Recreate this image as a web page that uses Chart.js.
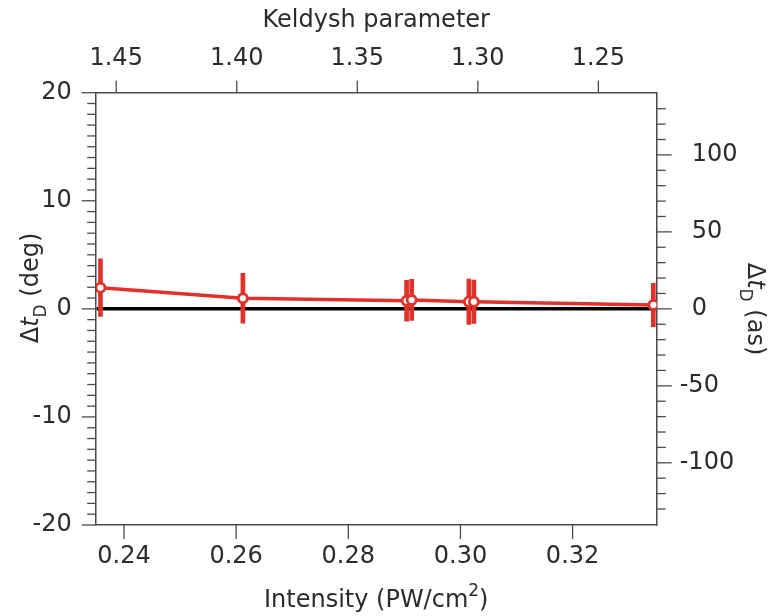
<!DOCTYPE html>
<html>
<head>
<meta charset="utf-8">
<script src="https://cdn.jsdelivr.net/npm/chart.js@4.4.0/dist/chart.umd.min.js"></script>
<style>
  body { margin: 0; background: #fff; }
  #wrap { width: 771px; height: 616px; }
</style>
</head>
<body>
<div id="wrap"><canvas id="delayChart" width="771" height="616"></canvas></div>
<script>
// values
const intensity = [0.2358, 0.2612, 0.2904, 0.2913, 0.3015, 0.3024, 0.3344]; // PW/cm^2
const delayDeg = [1.96, 0.98, 0.75, 0.82, 0.66, 0.66, 0.36];
const delayErr = [2.67, 2.30, 1.90, 1.90, 2.10, 2.00, 2.00];

// axis ticks
const intensityTicks = [0.24, 0.26, 0.28, 0.30, 0.32];
const keldyshTicks = [1.25, 1.30, 1.35, 1.40, 1.45];
const degTicks = [-20, -10, 0, 10, 20];
const asTicks = [-100, -50, 0, 50, 100];

const RED = '#e2302a';
const TEXT = '#2b2b2b';
const FRAME = '#4a4a4a';
const FONT = '"DejaVu Sans", sans-serif';

const degMinor = [];
for (let v = -19; v <= 19; v++) if (v % 10 !== 0) degMinor.push(v);
const asMinor = [];
for (let v = -130; v <= 130; v += 10) if (v % 50 !== 0) asMinor.push(v);

function setTicks(list) {
    return scale => { scale.ticks = list.map(v => ({ value: v })); };
}

// outward tick marks (major + minor), placed with the chart's scales
const tickMarks = {
    id: 'tickMarks',
    afterDraw(chart) {
        const ctx = chart.ctx;
        const s = chart.scales;
        ctx.save();
        ctx.strokeStyle = FRAME;
        ctx.lineWidth = 1.3;
        function vert(scale, values, x0, len) {
            values.forEach(v => {
                const y = scale.getPixelForValue(v);
                ctx.beginPath(); ctx.moveTo(x0, y); ctx.lineTo(x0 + len, y); ctx.stroke();
            });
        }
        function horiz(scale, values, y0, len) {
            values.forEach(v => {
                const x = scale.getPixelForValue(v);
                ctx.beginPath(); ctx.moveTo(x, y0); ctx.lineTo(x, y0 + len); ctx.stroke();
            });
        }
        const area = chart.chartArea;
        vert(s.y, degTicks, area.left, -14);
        vert(s.y, degMinor, area.left, -8.5);
        vert(s.y2, asTicks, area.right, 15);
        vert(s.y2, asMinor, area.right, 9);
        horiz(s.x, intensityTicks, area.bottom, 14);
        horiz(s.x2, keldyshTicks, area.top, -12);
        ctx.restore();
    }
};

// draws a run of text pieces (for italics, sub/superscripts)
function drawRich(ctx, parts, cx, baseY, rot) {
    ctx.save();
    ctx.translate(cx, baseY);
    ctx.rotate(rot);
    let total = 0;
    parts.forEach(p => { ctx.font = p.font; total += ctx.measureText(p.text).width; });
    let x = -total / 2;
    ctx.fillStyle = TEXT;
    ctx.textBaseline = 'alphabetic';
    ctx.textAlign = 'left';
    parts.forEach(p => {
        ctx.font = p.font;
        ctx.fillText(p.text, x, p.dy || 0);
        x += ctx.measureText(p.text).width;
    });
    ctx.restore();
}

const axisTitles = {
    id: 'axisTitles',
    afterDraw(chart) {
        const ctx = chart.ctx;
        const area = chart.chartArea;
        const mid = (area.left + area.right) / 2;
        const big = '24px ' + FONT;
        const ital = 'italic 24px ' + FONT;
        const small = '17px ' + FONT;
        drawRich(ctx, [{ text: 'Keldysh parameter', font: big }], mid, 27, 0);
        drawRich(ctx, [
            { text: 'Intensity (PW/cm', font: big },
            { text: '2', font: small, dy: -11 },
            { text: ')', font: big }
        ], mid, 607, 0);
        drawRich(ctx, [
            { text: '\u0394', font: big },
            { text: 't', font: ital },
            { text: 'D', font: small, dy: 8 },
            { text: ' (deg)', font: big }
        ], 38, 288, -Math.PI / 2);
        drawRich(ctx, [
            { text: '\u0394', font: big },
            { text: 't', font: ital },
            { text: 'D', font: small, dy: 8 },
            { text: ' (as)', font: big }
        ], 748, 309, Math.PI / 2);
    }
};

const points = intensity.map((x, i) => ({ x: x, y: delayDeg[i] }));
const bars = intensity.map((x, i) => ({ x: x, y: [delayDeg[i] - delayErr[i], delayDeg[i] + delayErr[i]] }));

const tickFont = { family: FONT, size: 24 };

new Chart(document.getElementById('delayChart'), {
    type: 'line',
    data: {
        datasets: [
            {
                label: 'delay',
                data: points,
                borderColor: RED,
                borderWidth: 3.5,
                pointRadius: 4.5,
                pointBorderWidth: 2.8,
                pointBackgroundColor: '#fff',
                pointBorderColor: RED,
                fill: false,
                tension: 0,
                order: 0
            },
            {
                type: 'bar',
                label: 'error',
                data: bars,
                backgroundColor: RED,
                borderWidth: 0,
                barThickness: 4,
                order: 1
            }
        ]
    },
    options: {
        responsive: false,
        animation: false,
        layout: { padding: 0 },
        plugins: {
            legend: { display: false },
            tooltip: { enabled: false }
        },
        scales: {
            x: {
                type: 'linear',
                position: 'bottom',
                min: 0.23495,
                max: 0.335,
                offset: false,
                afterBuildTicks: setTicks(intensityTicks),
                afterFit: scale => { scale.height = 91; },
                grid: { drawOnChartArea: false, drawTicks: false, offset: false },
                border: { display: true, color: FRAME, width: 1.5 },
                ticks: {
                    autoSkip: false, maxRotation: 0, padding: 17,
                    color: TEXT, font: tickFont,
                    callback: v => v.toFixed(2)
                }
            },
            x2: {
                type: 'linear',
                position: 'top',
                reverse: true,
                min: 1.2258,
                max: 1.4585,
                afterBuildTicks: setTicks(keldyshTicks),
                afterFit: scale => { scale.height = 92.7; },
                grid: { drawOnChartArea: false, drawTicks: false },
                border: { display: true, color: FRAME, width: 1.5 },
                ticks: {
                    autoSkip: false, maxRotation: 0, padding: 20,
                    color: TEXT, font: tickFont,
                    callback: v => v.toFixed(2)
                }
            },
            y: {
                type: 'linear',
                position: 'left',
                min: -20,
                max: 20,
                afterBuildTicks: setTicks(degTicks),
                afterFit: scale => { scale.width = 95.7; },
                grid: {
                    drawTicks: false,
                    color: '#000',
                    lineWidth: c => (c.tick && c.tick.value === 0 ? 3.5 : 0)
                },
                border: { display: true, color: FRAME, width: 1.5 },
                ticks: {
                    autoSkip: false, padding: 24,
                    color: TEXT, font: tickFont,
                    callback: v => String(v)
                }
            },
            y2: {
                type: 'linear',
                position: 'right',
                min: -140.4,
                max: 140.4,
                afterBuildTicks: setTicks(asTicks),
                afterFit: scale => { scale.width = 114.3; },
                grid: { drawOnChartArea: false, drawTicks: false },
                border: { display: true, color: FRAME, width: 1.5 },
                ticks: {
                    autoSkip: false, padding: 23,
                    color: TEXT, font: tickFont,
                    callback: v => (v < 0 ? '' : '\u2002') + v
                }
            }
        }
    },
    plugins: [tickMarks, axisTitles]
});
</script>
</body>
</html>
